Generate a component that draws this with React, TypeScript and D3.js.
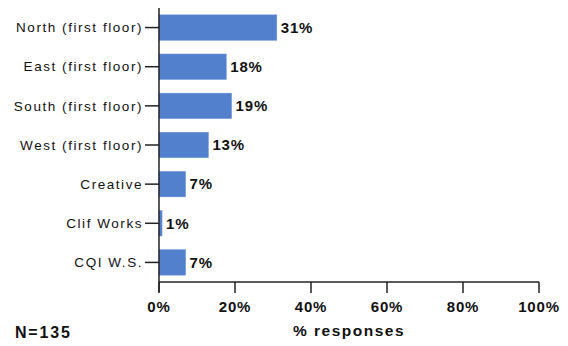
import React from "react";
import * as d3 from "d3";

const categories = [
  "North (first floor)",
  "East (first floor)",
  "South (first floor)",
  "West (first floor)",
  "Creative",
  "Clif Works",
  "CQI W.S.",
];
const values = [31, 18, 19, 13, 7, 1, 7];
const barLengths = [31, 17.7, 19.1, 13, 7, 0.8, 7];
const xTicks = [0, 20, 40, 60, 80, 100];
const xTitle = "% responses";
const note = "N=135";

export default function App() {
  const W = 568, H = 346;
  const left = 159, right = 539, top = 8, bottom = 282;
  const x = d3.scaleLinear().domain([0, 100]).range([left, right]);
  const y = d3.scaleBand<string>().domain(categories).range([top, bottom]).paddingInner(0.35).paddingOuter(0.175);
  const font = "'Liberation Sans', Arial, sans-serif";
  const axisColor = "#222";
  return (
    <svg width={W} height={H} style={{ position: "absolute", left: 0, top: 0, background: "#fff" }}>
      {categories.map((c, i) => (
        <g key={c}>
          <rect x={x(0)} y={y(c)!} width={x(barLengths[i]) - x(0)} height={y.bandwidth()} fill="#5380cd" stroke="#6a93d8" strokeWidth={0.5} />
          <text x={x(barLengths[i]) + 4} y={y(c)! + y.bandwidth() / 2} dy="0.35em" fontFamily={font} fontWeight="bold" fontSize={15} letterSpacing={0.8} fill="#111">
            {values[i]}%
          </text>
          <line x1={x(0) - 14} x2={x(0)} y1={y(c)! + y.bandwidth() / 2} y2={y(c)! + y.bandwidth() / 2} stroke={axisColor} strokeWidth={1.5} />
          <text x={x(0) - 16} y={y(c)! + y.bandwidth() / 2} dy="0.35em" textAnchor="end" fontFamily={font} fontSize={13.5} letterSpacing={1.55} fill="#111">
            {c}
          </text>
        </g>
      ))}
      <line x1={x(0)} x2={x(0)} y1={top} y2={bottom + 10} stroke={axisColor} strokeWidth={1.5} />
      <line x1={x(0)} x2={x(100)} y1={bottom} y2={bottom} stroke={axisColor} strokeWidth={1.5} />
      {xTicks.map((t) => (
        <g key={t}>
          <line x1={x(t)} x2={x(t)} y1={bottom} y2={bottom + 11} stroke={axisColor} strokeWidth={1.5} />
          <text x={x(t)} y={307} dy="0.35em" textAnchor="middle" fontFamily={font} fontWeight="bold" fontSize={15} letterSpacing={0.8} fill="#111">
            {t}%
          </text>
        </g>
      ))}
      <text x={(x(0) + x(100)) / 2} y={331} dy="0.35em" textAnchor="middle" fontFamily={font} fontWeight="bold" fontSize={15.5} letterSpacing={1.5} fill="#111">
        {xTitle}
      </text>
      <text x={15} y={332} dy="0.35em" fontFamily={font} fontWeight="bold" fontSize={16} letterSpacing={1.8} fill="#111">
        {note}
      </text>
    </svg>
  );
}
